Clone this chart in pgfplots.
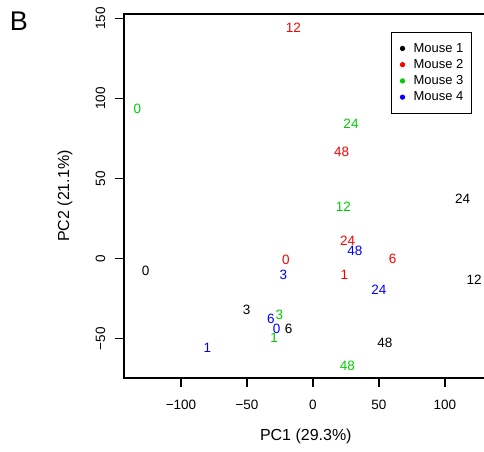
\documentclass[border=0pt]{standalone}
\usepackage{fontspec}
\setmainfont{Liberation Sans}
\usepackage{pgfplots}
\pgfplotsset{compat=1.18}
\usetikzlibrary{calc}
\definecolor{rred}{RGB}{255,0,0}
\definecolor{rgreen}{RGB}{0,205,0}
\definecolor{rblue}{RGB}{0,0,255}
\tikzset{
  ptlab/.style={anchor=center, inner sep=0pt, font=\fontsize{13.5bp}{16bp}\selectfont}}

\begin{document}
\begin{tikzpicture}
\begin{axis}[name=ax, scale only axis, width=363.6bp, height=364bp,
  xmin=-143.2, xmax=132.3, ymin=-74.6, ymax=152.9,
  axis line style={line width=1.2bp},
  tick align=outside, xtick pos=left, ytick pos=left,
  major tick length=9bp, tick style={black, line width=1.2bp},
  xtick={-100,-50,0,50,100}, xticklabels={−100,−50,0,50,100},
  ytick={-50,0,50,100,150}, yticklabels={−50,0,50,100,150},
  ticklabel style={font=\fontsize{13.5bp}{16bp}\selectfont},
  xticklabel style={inner ysep=12.8bp},
  yticklabel style={rotate=90, anchor=south, inner ysep=9.5bp},
  xlabel={PC1 (29.3\%)}, ylabel={PC2 (21.1\%)},
  label style={font=\fontsize{16bp}{19bp}\selectfont},
  xlabel style={at={(axis description cs:0.5,-0.1613)}, anchor=center},
  ylabel style={at={(axis description cs:-0.1623,0.5)}, anchor=center},
  legend style={at={(axis cs:120.7,141.9)}, anchor=north east, draw=black, line width=1bp,
    font=\fontsize{13bp}{15bp}\selectfont, inner xsep=8.4bp, inner ysep=8.3bp,
    row sep=0pt, column sep=8.4bp, nodes={inner xsep=0pt, inner ysep=2.85bp}},
  legend cell align=left,
  legend image code/.code={\fill (0bp,0bp) circle (2.1bp);},
  ]
\addlegendimage{black}\addlegendentry{Mouse 1}
\addlegendimage{rred}\addlegendentry{Mouse 2}
\addlegendimage{rgreen}\addlegendentry{Mouse 3}
\addlegendimage{rblue}\addlegendentry{Mouse 4}

% mouse 1
\addplot[forget plot, only marks, mark=none, nodes near coords, point meta=explicit symbolic,
  nodes near coords style={ptlab, text=black}] table[meta=t] {
x y t
-126.8 -7.5 0
-50.2 -32.1 3
-18.4 -44.1 6
122.1 -13.3 12
113.4 37.1 24
54.5 -52.5 48
};
% mouse 2
\addplot[forget plot, only marks, mark=none, nodes near coords, point meta=explicit symbolic,
  nodes near coords style={ptlab, text=rred}] table[meta=t] {
x y t
-20.5 -0.8 0
23.7 -10.2 1
60.4 -0.4 6
-14.9 144.4 12
26.3 11.1 24
21.7 66.9 48
};
% mouse 3
\addplot[forget plot, only marks, mark=none, nodes near coords, point meta=explicit symbolic,
  nodes near coords style={ptlab, text=rgreen}] table[meta=t] {
x y t
-133.1 93.4 0
-29.5 -49.8 1
-25.5 -35.2 3
23.0 32.5 12
28.8 84.2 24
26.0 -66.9 48
};
% mouse 4
\addplot[forget plot, only marks, mark=none, nodes near coords, point meta=explicit symbolic,
  nodes near coords style={ptlab, text=rblue}] table[meta=t] {
x y t
-27.5 -43.9 0
-80.1 -55.6 1
-22.5 -10.2 3
-32.0 -37.9 6
50.0 -19.6 24
31.8 4.8 48
};
\end{axis}
\node[font=\fontsize{27bp}{30bp}\selectfont, inner sep=0pt] at ($(ax.north west)+(-105bp,-7bp)$) {B};
\pgfresetboundingbox
\path[use as bounding box] ($(ax.south west)+(-124bp,-74bp)$) rectangle ($(ax.north west)+(360bp,14bp)$);
\end{tikzpicture}
\end{document}
